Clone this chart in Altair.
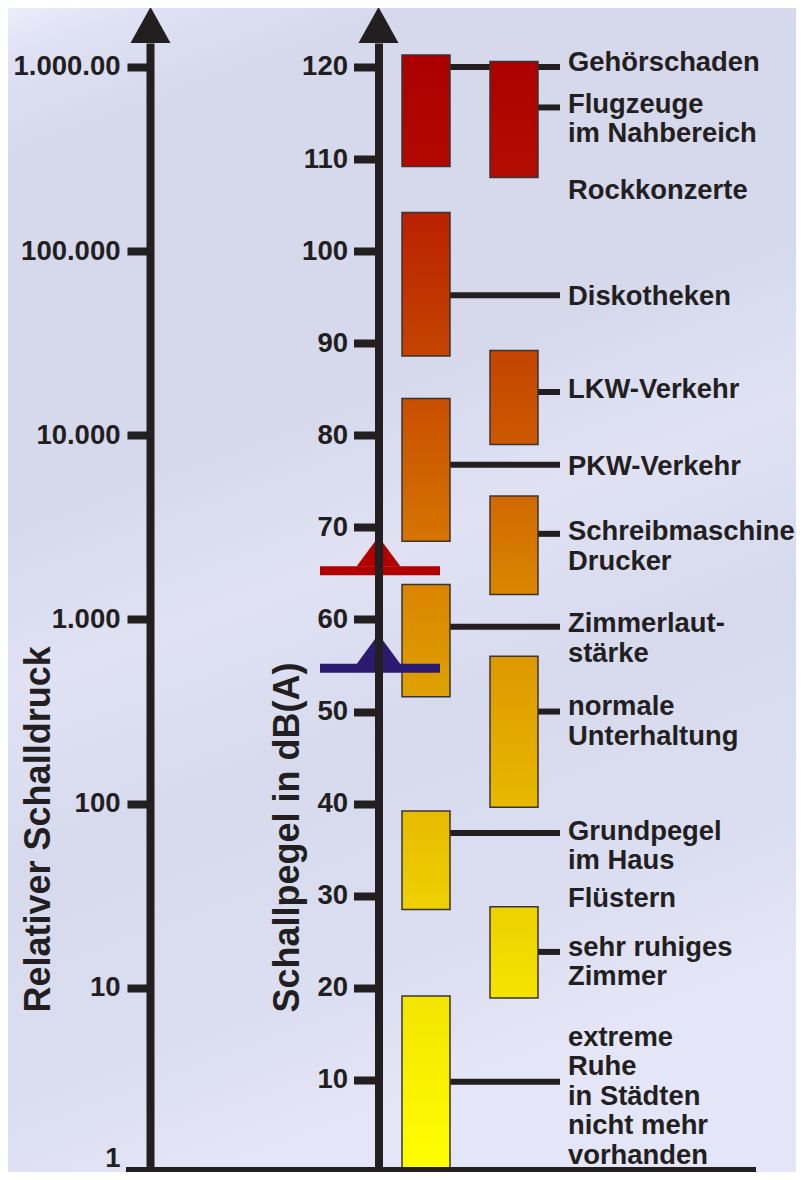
import altair as alt
import pandas as pd

# ---------------- data ----------------
# left column of level ranges (dB(A))
bar1_low = [109.2, 88.6, 68.5, 51.6, 28.5, 0.0]
bar1_high = [121.3, 104.2, 84.0, 63.8, 39.2, 19.1]
# right column of level ranges (dB(A))
bar2_low = [108.0, 79.0, 62.7, 39.6, 18.9]
bar2_high = [120.6, 89.2, 73.4, 56.0, 28.8]

# connector lines: level and the column they start from
connector_db = [120.0, 115.6, 95.2, 84.7, 76.8, 69.3, 59.2, 50.0, 36.8, 23.9, 9.8]
connector_col = [1, 2, 1, 2, 1, 2, 1, 2, 1, 2, 1]

label_text = [
    "Gehörschaden",
    "Flugzeuge\nim Nahbereich",
    "Rockkonzerte",
    "Diskotheken",
    "LKW-Verkehr",
    "PKW-Verkehr",
    "Schreibmaschine\nDrucker",
    "Zimmerlaut-\nstärke",
    "normale\nUnterhaltung",
    "Grundpegel\nim Haus",
    "Flüstern",
    "sehr ruhiges\nZimmer",
    "extreme\nRuhe\nin Städten\nnicht mehr\nvorhanden",
]
label_db = [119.6, 115.0, 105.7, 94.1, 84.0, 75.7, 68.6, 58.6, 49.6, 36.1, 28.8, 23.5, 13.7]

db_ticks = [10, 20, 30, 40, 50, 60, 70, 80, 90, 100, 110, 120]
pressure_db = [0, 20, 40, 60, 80, 100, 120]
pressure_labels = ["1", "10", "100", "1.000", "10.000", "100.000", "1.000.00"]

limit_db = [65.3, 54.7]
limit_color = ["#b00000", "#2b1b70"]

# ---------------- layout / style ----------------
PAD_L, PAD_T = 142, 35
W, H = 646, 1129
X_DOMAIN = [150, 796]
Y_MIN, Y_MAX = 0.0, 122.6
PX_PER_DB = H / (Y_MAX - Y_MIN)
LEFT_AXIS_X = 150.5
DB_AXIS_X = 378.5
COLS = {1: (402, 450), 2: (490, 538)}
CONN_END = 560
LABEL_X = 568
INK = "#231f20"
FONT = "Arial, Liberation Sans, sans-serif"
ARROW_DB = Y_MAX + 18 / PX_PER_DB

anchors = [(0, "#ffff00"), (19, "#f4e400"), (28, "#eed200"), (39, "#e7ba00"),
           (52, "#e0a000"), (64, "#d98400"), (68, "#d57600"), (84, "#c84e00"),
           (89, "#c44300"), (104, "#ba2200"), (109, "#b30800"), (122, "#ab0000")]


def _rgb(h):
    return [int(h[i:i + 2], 16) for i in (1, 3, 5)]


def col_at(db):
    for (d0, c0), (d1, c1) in zip(anchors[:-1], anchors[1:]):
        if d0 <= db <= d1:
            t = (db - d0) / (d1 - d0)
            a, b = _rgb(c0), _rgb(c1)
            return "#" + "".join(f"{round(x + (y - x) * t):02x}" for x, y in zip(a, b))
    return anchors[-1][1]


def grad(top, bottom):
    return alt.Gradient(
        gradient="linear", x1=0, x2=0, y1=0, y2=1,
        stops=[alt.GradientStop(color=col_at(top), offset=0),
               alt.GradientStop(color=col_at(bottom), offset=1)],
    )


xs = alt.Scale(domain=X_DOMAIN, nice=False, zero=False)
ys = alt.Scale(domain=[Y_MIN, Y_MAX], nice=False, zero=False)


def X(f):
    return alt.X(f, type="quantitative", scale=xs, axis=None)


def X2(f):
    return alt.X2(f)


def Y(f, axis=None):
    return alt.Y(f, type="quantitative", scale=ys, axis=axis)


common_axis = dict(
    grid=False, domainColor=INK, domainWidth=8, tickColor=INK, tickWidth=8,
    labelFont=FONT, labelFontSize=27.5, labelFontWeight="bold", labelColor=INK,
    labelOverlap=False, labelFlush=False,
    titleFont=FONT, titleFontSize=36, titleFontWeight="bold", titleColor=INK,
    titleAngle=270, titleAlign="left", titleBaseline="alphabetic",
    orient="left", zindex=2,
)

db_axis = alt.Axis(
    values=db_ticks, offset=-(DB_AXIS_X - X_DOMAIN[0]), tickSize=25, labelPadding=6,
    labelBaseline="middle",
    title="Schallpegel in dB(A)", titleX=298 - DB_AXIS_X, titleY=1012 - 43,
    **common_axis,
)

label_expr = " : ".join(
    f"datum.value == {v} ? '{t}'" for v, t in zip(pressure_db, pressure_labels)
) + " : ''"
pressure_axis = alt.Axis(
    values=pressure_db, offset=0, tickSize=23, labelPadding=7, labelExpr=label_expr,
    labelBaseline={"condition": {"test": f"datum.value == {pressure_db[0]}", "value": "bottom"},
                   "value": "middle"},
    title="Relativer Schalldruck", titleX=49.5 - LEFT_AXIS_X, titleY=1012 - 43,
    **common_axis,
)

# ---------------- layers ----------------
bg = alt.Chart(pd.DataFrame({"a": [0]})).mark_rect(
    fill=alt.Gradient(
        gradient="linear", x1=0, x2=0.25, y1=0, y2=1,
        stops=[alt.GradientStop(color="#eceefb", offset=0),
               alt.GradientStop(color="#dfe1f4", offset=0.04),
               alt.GradientStop(color="#d6d8ec", offset=0.12),
               alt.GradientStop(color="#d6d8ec", offset=0.42),
               alt.GradientStop(color="#e0e2f4", offset=0.55),
               alt.GradientStop(color="#d7d9ed", offset=0.7),
               alt.GradientStop(color="#dcdef1", offset=0.9),
               alt.GradientStop(color="#e4e6f7", offset=1)],
    )
).encode(x=alt.value(-PAD_L), x2=alt.value(W), y=alt.value(-PAD_T), y2=alt.value(H))

conn_df = pd.DataFrame({
    "db": connector_db,
    "x0": [COLS[c][1] for c in connector_col],
    "x1": [CONN_END] * len(connector_db),
})
connectors = alt.Chart(conn_df).mark_rule(color=INK, strokeWidth=6).encode(
    x=X("x0"), x2=X2("x1"), y=Y("db", db_axis)
)

bars = []
for col, lows, highs in ((1, bar1_low, bar1_high), (2, bar2_low, bar2_high)):
    for lo, hi in zip(lows, highs):
        d = pd.DataFrame({"lo": [lo], "hi": [hi], "x0": [COLS[col][0]], "x1": [COLS[col][1]]})
        bars.append(
            alt.Chart(d).mark_rect(fill=grad(hi, lo), stroke="#3b3434", strokeWidth=1.5).encode(
                x=X("x0"), x2=X2("x1"), y=Y("hi"), y2=alt.Y2("lo")
            )
        )

base_df = pd.DataFrame({"db": [pressure_db[0]], "x0": [126], "x1": [756]})
base_line = alt.Chart(base_df).mark_rule(color=INK, strokeWidth=8, yOffset=-1).encode(
    x=X("x0"), x2=X2("x1"), y=Y("db", pressure_axis)
)

arrow_df = pd.DataFrame({"x": [LEFT_AXIS_X, DB_AXIS_X], "db": [ARROW_DB, ARROW_DB]})
arrows = alt.Chart(arrow_df).mark_point(
    shape="M0,-0.9L1,0.9L-1,0.9Z", filled=True, size=1600, color=INK, opacity=1, strokeWidth=0
).encode(x=X("x"), y=Y("db"))

lim_df = pd.DataFrame({"db": limit_db, "c": limit_color, "x0": [320, 320], "x1": [440, 440],
                       "xm": [DB_AXIS_X, DB_AXIS_X]})
limit_lines = alt.Chart(lim_df).mark_rule(strokeWidth=9).encode(
    x=X("x0"), x2=X2("x1"), y=Y("db"), color=alt.Color("c:N", scale=None, legend=None)
)
limit_tri = alt.Chart(lim_df).mark_point(
    shape="M0,-0.68L1,0.68L-1,0.68Z", filled=True, size=1936, opacity=1, strokeWidth=0, yOffset=-19
).encode(x=X("xm"), y=Y("db"), color=alt.Color("c:N", scale=None, legend=None))

lab_df = pd.DataFrame({"t": label_text, "db": label_db, "x": [LABEL_X] * len(label_text)})
labels = alt.Chart(lab_df).mark_text(
    align="left", baseline="alphabetic", lineBreak="\n", lineHeight=29.5,
    font=FONT, fontSize=27.4, fontWeight="bold", color=INK,
).encode(x=X("x"), y=Y("db"), text="t:N")

chart = alt.layer(
    bg, connectors, *bars, base_line, arrows, limit_tri, limit_lines, labels
).resolve_axis(y="independent").properties(
    width=W, height=H,
    padding={"left": PAD_L, "top": PAD_T, "right": 0, "bottom": 0},
    autosize=alt.AutoSizeParams(type="none"),
    background="#d7d9ed",
).configure_view(stroke=None)

chart.save("out.html", embed_options={"renderer": "svg", "actions": False})
